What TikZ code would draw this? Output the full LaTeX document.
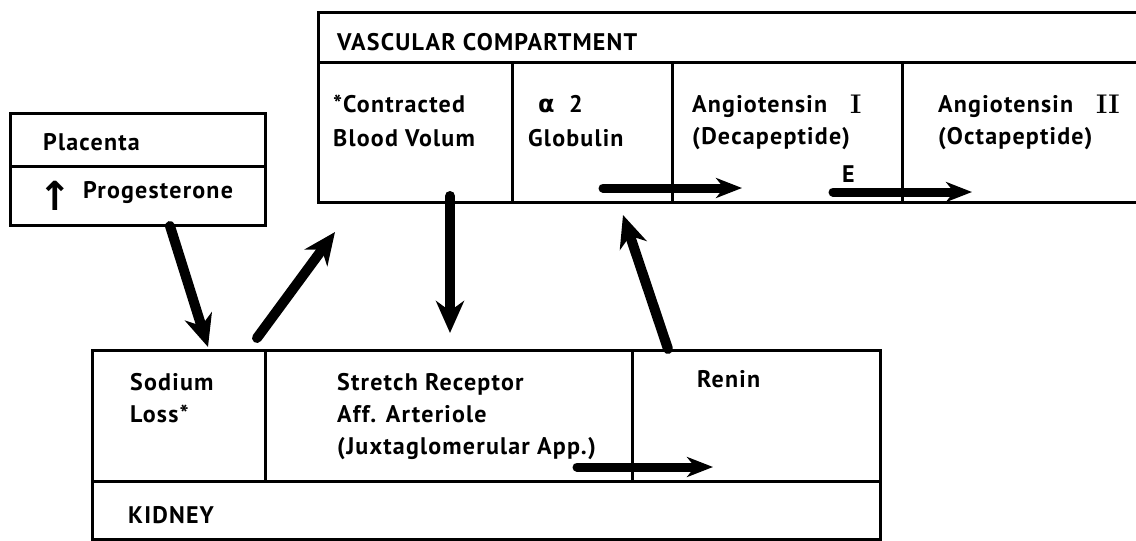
\documentclass[tikz,border=0pt]{standalone}
\usepackage{fontspec}
\newfontfamily\lab[LetterSpace=5]{PT Sans Bold}
\newfontfamily\dv{DejaVu Sans}
\usetikzlibrary{arrows.meta}
\begin{document}
\begin{tikzpicture}[x=1pt,y=-1pt,
  boxline/.style={line width=3pt},
  txt/.style={anchor=base west, inner sep=0pt, font=\lab\fontsize{24}{28}\selectfont},
  numeral/.style={font=\rmfamily\bfseries\fontsize{27}{28}\selectfont},
  fatarrow/.style={line width=10pt, line cap=round, -{Stealth[length=32pt,width=28pt,inset=10pt]}},
  flatarrow/.style={line width=9pt, line cap=round, -{Stealth[length=26pt,width=20pt,inset=8pt]}}]
\useasboundingbox (0,0) rectangle (1136,541);
% vascular compartment
\draw[boxline] (1136,12) -- (318,12) -- (318,202) -- (1136,202);
\draw[boxline] (318,62) -- (1136,62);
\draw[boxline] (512,62) -- (512,202);
\draw[boxline] (672,62) -- (672,202);
\draw[boxline] (902,62) -- (902,202);
% placenta
\draw[boxline] (10,113) rectangle (265,225);
\draw[boxline] (10,166) -- (265,166);
% kidney
\draw[boxline] (92,350) rectangle (880,539);
\draw[boxline] (92,481) -- (880,481);
\draw[boxline] (265,350) -- (265,481);
\draw[boxline] (632,350) -- (632,481);
% texts
\node[txt] (vc) at (337,50) {VASCULAR COMPARTMENT};
\node[txt] (cb1) at (333,112) {*Contracted};
\node[txt] (cb2) at (333,146) {Blood Volum};
\node[txt] (ag1) at (538,112) {{\dv\bfseries α}\ \ 2};
\node[txt] (ag2) at (528,146) {Globulin};
\node[txt] (an1) at (692,112) {Angiotensin};
\node[txt, numeral] (an1n) at (850,113) {I};
\node[txt] (an2) at (692,144) {(Decapeptide)};
\node[txt] (ao1) at (938,112) {Angiotensin};
\node[txt, numeral] (ao1n) at (1096,113) {II};
\node[txt] (ao2) at (938,144) {(Octapeptide)};
\node[txt] (e) at (842,182) {E};
\node[txt] (pl) at (43,150) {Placenta};
\node[txt, font=\dv\bfseries\fontsize{40}{40}\selectfont] (up) at (38,210) {↑};
\node[txt] (pr) at (83,198) {Progesterone};
\node[txt] (so1) at (130,390) {Sodium};
\node[txt] (so2) at (130,422) {Loss*};
\node[txt] (st1) at (337,390) {Stretch Receptor};
\node[txt] (st2) at (337,422) {Aff. Arteriole};
\node[txt] (st3) at (337,454) {(Juxtaglomerular App.)};
\node[txt] (re) at (697,387) {Renin};
\node[txt] (ki) at (128,523) {KIDNEY};
% arrow end points
\coordinate (a1s) at (603,188); \coordinate (a1e) at (742,188);
\coordinate (a2s) at (833,192); \coordinate (a2e) at (972,192);
\coordinate (pls) at (170,226); \coordinate (ple) at (208,347);
\coordinate (sos) at (257,338); \coordinate (soe) at (335,232);
\coordinate (cbs) at (450,196); \coordinate (cbe) at (450,333);
\coordinate (res) at (668,349); \coordinate (ree) at (623,215);
\coordinate (kis) at (577,467); \coordinate (kie) at (713,467);
% arrows
\draw[flatarrow] (a1s) -- (a1e);
\draw[flatarrow] (a2s) -- (a2e);
\draw[fatarrow] (pls) -- (ple);
\draw[fatarrow] (sos) -- (soe);
\draw[fatarrow] (cbs) -- (cbe);
\draw[fatarrow] (res) -- (ree);
\draw[flatarrow] (kis) -- (kie);
\end{tikzpicture}
\end{document}
